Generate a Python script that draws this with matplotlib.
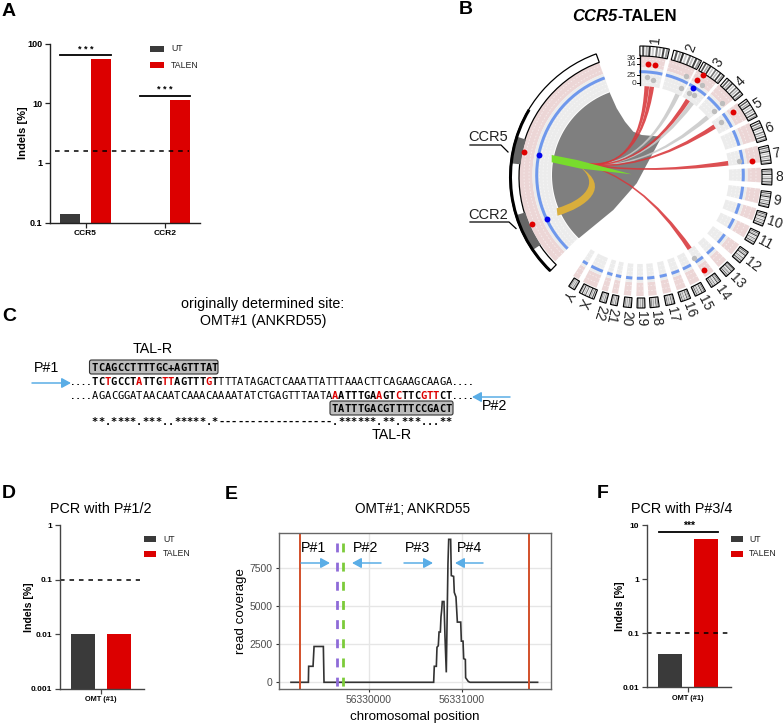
import numpy as np
import matplotlib
matplotlib.use("Agg")
import matplotlib.pyplot as plt
from matplotlib.patches import Wedge, PathPatch, Rectangle, FancyBboxPatch
from matplotlib.path import Path

plt.rcParams['font.family'] = ['Liberation Sans', 'DejaVu Sans']

W, H = 783, 725
UT_COLOR = '#3a3a3a'
TALEN_COLOR = '#dc0000'
ARROW_COLOR = '#5aade6'

# panel A
a_groups = ['CCR5', 'CCR2']
a_ut = [0.14, 0.1]
a_talen = [55, 11.5]
a_threshold = 1.55
a_sig = [63, 13.4]

# panel D
d_ut = [0.01]
d_talen = [0.01]
d_threshold = 0.1

# panel F
f_ut = [0.04]
f_talen = [5.5]
f_threshold = 0.1
f_sig = 7.4

# panel E
cov_pos = [56329161, 56329348, 56329351, 56329398, 56329409, 56329509, 56329516,
           56330695, 56330702, 56330724, 56330731, 56330745, 56330753, 56330767,
           56330774, 56330781, 56330788, 56330806, 56330817, 56330831, 56330842,
           56330849, 56330857, 56330878, 56330885, 56330910, 56330917, 56330935,
           56330950, 56330986, 56330993, 56331011, 56331018, 56331036, 56331039,
           56331068, 56331086, 56331813]
cov_val = [0, 0, 1050, 1050, 2350, 2350, 0,
           0, 1050, 1050, 2300, 2400, 3300, 3300,
           4300, 4700, 5300, 5300, 3000, 650, 5000,
           7800, 9380, 9380, 7000, 6950, 5900, 5600,
           3950, 3950, 2700, 2700, 1550, 1500, 300,
           50, 0, 0]
amplicon_edges = [56329258, 56331720]
cut_purple = 56329656
cut_green = 56329717

# panel B, angles in degrees clockwise from north
chrom_names = ['1', '2', '3', '4', '5', '6', '7', '8', '9', '10', '11', '12', '13',
               '14', '15', '16', '17', '18', '19', '20', '21', '22', 'X', 'Y']
chrom_center = [6, 21, 34, 46, 58, 69, 80, 90, 100, 109, 118, 128, 137,
                145, 153, 160, 167, 174, 180, 186, 192, 197, 204.6, 212]
chrom_width = [13, 13, 11, 10, 9, 9, 8, 7, 7, 6, 6, 6, 5,
               5, 5, 4.5, 4, 4, 3.5, 3.5, 3, 3, 7, 3]
band_frac = [0.08, 0.2, 0.3, 0.42, 0.55, 0.66, 0.78, 0.9]
band_gray = ['#555555', '#aaaaaa', '#333333', '#cccccc', '#777777', '#bbbbbb', '#444444', '#999999']

red_theta = [281, 245.6, 4, 8, 32, 31, 56, 83, 146]
red_r = [118, 118.6, 111, 111, 118, 111, 112, 113, 114]
blue_theta = [281, 245, 31]
blue_r = [103, 103, 102]
gray_theta = [4, 8, 25, 25, 34.6, 31, 34, 49, 49, 57, 82, 147]
gray_r = [98, 96, 109, 96, 109, 96, 96, 109, 98, 97, 100, 99]

link_theta = [25, 35.8, 49.5, 4.4, 7.6, 32.6, 57, 82.4, 146]
link_color = ['#c9c9c9', '#c9c9c9', '#c9c9c9', '#d8363a', '#d8363a', '#d8363a', '#d8363a', '#d8363a', '#d8363a']

shade_x = [610, 616.7, 625, 633.3, 641.7, 661.7, 636.7, 613.3, 576.7]
shade_y = [93.3, 108.3, 121.7, 131.7, 135, 136.7, 183.3, 210, 240]

seq_top = 'TCTGCCTATTGTTAGTTTGTTTTATAGACTCAAATTATTTAAACTTCAGAAGCAAGA'
seq_bottom = 'AGACGGATAACAATCAAACAAAATATCTGAGTTTAATAAATTTGAAGTCTTCGTTCT'
seq_match = '**.****.***..*****.*------------------.******.**.***...**'
top_red = [2, 7, 11, 12, 18]
bottom_red = [38, 45, 48, 52, 53, 54]
tal_left = 'TCAGCCTTTTGC+AGTTTAT'
tal_right = 'TATTTGACGTTTTCCGACT'

fig = plt.figure(figsize=(W / 100, H / 100), dpi=100)


def add_axes_px(x0, y_top, x1, y_bottom):
    return fig.add_axes([x0 / W, 1 - y_bottom / H, (x1 - x0) / W, (y_bottom - y_top) / H])


def style_bar_axes(ax, yticks, ylabels, ylabel, label_size, tick_size, pad, color='#222222'):
    ax.set_yscale('log')
    ax.set_ylim(yticks[0], yticks[-1])
    ax.set_yticks(yticks)
    ax.set_yticklabels(ylabels, fontsize=tick_size, fontweight='bold')
    ax.minorticks_off()
    ax.set_ylabel(ylabel, fontsize=label_size, fontweight='bold', labelpad=pad)
    for side in ['top', 'right']:
        ax.spines[side].set_visible(False)
    for side in ['left', 'bottom']:
        ax.spines[side].set_linewidth(1.0)
        ax.spines[side].set_color(color)
    ax.tick_params(axis='both', length=3.6, width=0.9, color=color, pad=2)
    ax.patch.set_alpha(0)


# Panel A
ax_a = add_axes_px(50, 43.5, 200, 222.5)
pos = np.arange(len(a_groups))
ax_a.bar(pos - 0.19, a_ut, 0.25, color=UT_COLOR)
ax_a.bar(pos + 0.19, a_talen, 0.25, color=TALEN_COLOR)
style_bar_axes(ax_a, [0.1, 1, 10, 100], ['0.1', '1', '10', '100'], 'Indels [%]', 8, 6.5, -0.6)
ax_a.set_xlim(-0.447, 1.44)
ax_a.set_xticks(pos)
ax_a.set_xticklabels(a_groups, fontsize=6, fontweight='bold')
ax_a.plot([-0.39, 1.3], [a_threshold, a_threshold], color='black', lw=1.1, dashes=(3, 3.2))
ax_a.plot([-0.32, 0.32], [a_sig[0], a_sig[0]], color='black', lw=1.3)
ax_a.plot([0.68, 1.31], [a_sig[1], a_sig[1]], color='black', lw=1.3)

# Panel D
ax_d = add_axes_px(60, 525, 144, 688.7)
ax_d.bar([-0.5], d_ut, 0.67, color=UT_COLOR)
ax_d.bar([0.5], d_talen, 0.67, color=TALEN_COLOR)
style_bar_axes(ax_d, [0.001, 0.01, 0.1, 1], ['0.001', '0.01', '0.1', '1'], 'Indels [%]', 7.6, 6, -2.4, '#444444')
ax_d.set_xlim(-1.14, 1.19)
ax_d.set_xticks([0])
ax_d.set_xticklabels(['OMT (#1)'], fontsize=5.3, fontweight='bold')
ax_d.plot([-1.14, 1.08], [d_threshold, d_threshold], color='black', lw=1.1, dashes=(3, 3.2))

# Panel F
ax_f = add_axes_px(647, 525, 731, 687)
ax_f.bar([-0.5], f_ut, 0.67, color=UT_COLOR)
ax_f.bar([0.5], f_talen, 0.67, color=TALEN_COLOR)
style_bar_axes(ax_f, [0.01, 0.1, 1, 10], ['0.01', '0.1', '1', '10'], 'Indels [%]', 7.6, 6, -1.6, '#444444')
ax_f.set_xlim(-1.14, 1.19)
ax_f.set_xticks([0])
ax_f.set_xticklabels(['OMT (#1)'], fontsize=5.3, fontweight='bold')
ax_f.plot([-1.14, 1.1], [f_threshold, f_threshold], color='black', lw=1.1, dashes=(3, 3.2))
ax_f.plot([-0.81, 0.83], [f_sig, f_sig], color='black', lw=1.3)

# Panel E
ax_e = add_axes_px(279, 533, 551, 689)
ax_e.set_xlim(56329032, 56331957)
ax_e.set_ylim(-440, 9797)
ax_e.grid(True, color='#e6e6e6', lw=1.0)
ax_e.set_axisbelow(True)
ax_e.plot(cov_pos, cov_val, color='#333333', lw=1.2, solid_joinstyle='miter')
for edge in amplicon_edges:
    ax_e.axvline(edge, color='#d2502a', lw=1.4)
ax_e.plot([cut_purple, cut_purple], [9170, -440], color='#8e6bd8', lw=2.0, dashes=(3.2, 3.7))
ax_e.plot([cut_green, cut_green], [9170, -440], color='#7ccb3a', lw=2.0, dashes=(3.2, 3.7))
ax_e.set_xticks([56330000, 56331000])
ax_e.set_xticklabels(['56330000', '56331000'])
ax_e.set_yticks([0, 2500, 5000, 7500])
ax_e.tick_params(labelsize=7.5, labelcolor='#4d4d4d', color='#333333', length=2.5, width=0.8, pad=2)
ax_e.set_xlabel('chromosomal position', fontsize=9.6, labelpad=4)
ax_e.set_ylabel('read coverage', fontsize=9.6, labelpad=2)
for side in ax_e.spines.values():
    side.set_color('#666666')
    side.set_linewidth(1.0)

# overlay in pixel coordinates for panels B, C and the labels
ov = fig.add_axes([0, 0, 1, 1], zorder=5)
ov.set_xlim(0, W)
ov.set_ylim(H, 0)
ov.axis('off')
ov.patch.set_alpha(0)

CX, CY = 640, 175
# the ideogram ring sits slightly lower than the data tracks
IX, IY = 641, 177


def pol(theta, r, cx=CX, cy=CY):
    t = np.radians(theta)
    return cx + r * np.sin(t), cy - r * np.cos(t)


def ring(t0, t1, r0, r1, center=(CX, CY), **kw):
    ov.add_patch(Wedge(center, r1, t0 - 90, t1 - 90, width=r1 - r0, **kw))


def track(t0, t1):
    ring(t0, t1, 107.5, 121, fc='#ecd6d6', ec='none')
    ring(t0, t1, 89, 107.5, fc='#ececec', ec='none')
    ts = np.linspace(t0, t1, 40)
    for r in [93, 97, 100.5, 111, 116]:
        x, y = pol(ts, r)
        ov.plot(x, y, color='white', lw=0.6, dashes=(2, 2), alpha=0.55)
    ring(t0, t1, 101.8, 104.8, fc='#6f98ec', ec='none')


# left sector with CCR5 and CCR2
track(224.5, 340)
ring(224, 340, 122, 131, center=(IX, IY), fc='white', ec='black', lw=0.9)
ring(276, 288, 121, 131, center=(IX, IY), fc='#666666', ec='none')
ring(236, 253, 121, 131, center=(IX, IY), fc='#666666', ec='none')
ring(224, 301, 129, 132, center=(IX, IY), fc='black', ec='none')

for t, w, name in zip(chrom_center, chrom_width, chrom_names):
    t0, t1 = t - w / 2, t + w / 2
    track(t0, t1)
    ring(t0, t1, 121, 131, center=(IX, IY), fc='white', ec='none')
    for f, c in zip(band_frac, band_gray):
        ring(t0 + f * w, t0 + (f + 0.07) * w, 121, 131, center=(IX, IY), fc=c, ec='none')
    ring(t0, t1, 121, 131, center=(IX, IY), fc='none', ec='black', lw=0.8)
    x, y = pol(t, 134, IX, IY)
    ov.text(x, y, name, fontsize=10, rotation=90 - t, rotation_mode='anchor',
            ha='left', va='center', color='#222222')

# dark region between the two target genes
ts = np.linspace(224, 340, 50)
ax_, ay_ = pol(ts, 88)
ov.fill(np.r_[ax_, shade_x], np.r_[ay_, shade_y], color='#7f7f7f', lw=0)

# links
ox, oy = pol(281, 63)
for t, c in zip(link_theta, link_color):
    p1 = pol(t - 1.5, 89)
    p2 = pol(t + 1.5, 89)
    o1 = (ox, oy - 1.2)
    o2 = (ox, oy + 1.2)
    verts = [o1, (CX, CY), p1, p2, (CX, CY), o2, o1]
    codes = [Path.MOVETO, Path.CURVE3, Path.CURVE3, Path.LINETO, Path.CURVE3, Path.CURVE3, Path.CLOSEPOLY]
    ov.add_patch(PathPatch(Path(verts, codes), fc=c, ec='none', alpha=0.88))

gold = [(557.5, 215.7), (587, 207), (612, 187), (580, 167), (600, 183), (585, 200), (556.7, 208.3), (557.5, 215.7)]
gold_codes = [Path.MOVETO, Path.CURVE4, Path.CURVE4, Path.CURVE4, Path.CURVE4, Path.CURVE4, Path.CURVE4, Path.CLOSEPOLY]
ov.add_patch(PathPatch(Path(gold, gold_codes), fc='#d9ae3c', ec='none'))
ov.fill([551.7, 577, 631.7, 580, 551.7], [155, 160, 174.3, 168.5, 162.3], color='#78dc2c', lw=0)

ov.scatter(*pol(np.array(gray_theta), np.array(gray_r)), s=15, color='#bdbdbd', lw=0, zorder=6)
ov.scatter(*pol(np.array(red_theta), np.array(red_r)), s=18, color='#e00000', lw=0, zorder=6)
ov.scatter(*pol(np.array(blue_theta), np.array(blue_r)), s=18, color='#0000ee', lw=0, zorder=6)

# small scale on chromosome 1
ov.plot([640, 640], [55, 85], color='black', lw=0.9)
for y, lab in zip([58, 64, 75, 83], ['36', '14', '25', '0']):
    ov.plot([637, 640], [y, y], color='black', lw=0.7)
    ov.text(636, y, lab, fontsize=6, ha='right', va='center', color='#333333')

ov.text(488, 137, 'CCR5', fontsize=10.5, ha='center', va='center', color='#222222')
ov.plot([470, 501, 508], [145, 145, 152], color='black', lw=0.9)
ov.text(488, 215, 'CCR2', fontsize=10.5, ha='center', va='center', color='#222222')
ov.plot([470, 509, 516], [222, 222, 228.5], color='black', lw=0.9)
ov.text(617, 16, 'CCR5', fontsize=12, fontweight='bold', fontstyle='italic', ha='right', va='center')
ov.text(617, 16, '-TALEN', fontsize=12, fontweight='bold', ha='left', va='center')

# panel C
ov.text(263, 304, 'originally determined site:', fontsize=10.3, ha='center', va='center')
ov.text(263, 321, 'OMT#1 (ANKRD55)', fontsize=10.3, ha='center', va='center')
ov.text(153, 349, 'TAL-R', fontsize=10.3, ha='center', va='center')
ov.text(392, 435, 'TAL-R', fontsize=10.3, ha='center', va='center')
ov.text(47, 368, 'P#1', fontsize=10.3, ha='center', va='center')
ov.text(495, 406, 'P#2', fontsize=10.3, ha='center', va='center')

for x0, y0, w, h in [(89.5, 360, 128.5, 14), (330, 401, 123, 14)]:
    ov.add_patch(FancyBboxPatch((x0 + 1, y0 + 1), w - 2, h - 2, boxstyle='round,pad=1,rounding_size=2',
                                fc='#bdbdbd', ec='#333333', lw=0.8))

STEP = 6.316
X0 = 95


def seq_x(i):
    return X0 + i * STEP


mono = 'DejaVu Sans Mono'
for i, ch in enumerate(seq_top):
    ov.text(seq_x(i), 382, ch, family=mono, fontsize=7.5, ha='center', va='center',
            fontweight='bold' if i < 20 else 'normal', color=TALEN_COLOR if i in top_red else 'black')
for i, ch in enumerate(seq_bottom):
    ov.text(seq_x(i), 396, ch, family=mono, fontsize=7.5, ha='center', va='center',
            fontweight='bold' if i >= 38 else 'normal', color=TALEN_COLOR if i in bottom_red else 'black')
for i, ch in enumerate(seq_match):
    ov.text(seq_x(i), 421.5, ch, family=mono, fontsize=7.5, ha='center', va='center', fontweight='bold')
for i, ch in enumerate(tal_left):
    ov.text(seq_x(i), 367.5, ch, family=mono, fontsize=7.5, ha='center', va='center', fontweight='bold')
for i, ch in enumerate(tal_right):
    ov.text(seq_x(i + 38), 408.5, ch, family=mono, fontsize=7.5, ha='center', va='center', fontweight='bold')
for y in [382, 396]:
    ov.text(81, y, '....', family=mono, fontsize=6.5, ha='center', va='center', fontweight='bold')
    ov.text(463, y, '....', family=mono, fontsize=6.5, ha='center', va='center', fontweight='bold')


def arrow(x0, x1, y):
    ov.annotate('', xy=(x1, y), xytext=(x0, y),
                arrowprops=dict(arrowstyle='-|>,head_length=0.55,head_width=0.3', color=ARROW_COLOR,
                                lw=1.1, shrinkA=0, shrinkB=0))


arrow(32, 71, 383)
arrow(510, 472, 397)

# labels and arrows inside panel E
for x, lab in zip([314, 366, 418, 469], ['P#1', 'P#2', 'P#3', 'P#4']):
    ov.text(x, 548, lab, fontsize=10.3, ha='center', va='center')
arrow(301, 330, 563)
arrow(381, 352, 563)
arrow(404, 433, 563)
arrow(483, 455, 563)

# significance marks
ov.text(86, 49.5, '* * *', fontsize=6.5, fontweight='bold', ha='center', va='center')
ov.text(165, 89.5, '* * *', fontsize=6.5, fontweight='bold', ha='center', va='center')
ov.text(689, 525.5, '***', fontsize=7.5, fontweight='bold', ha='center', va='center')

# legends
for x, lab_x, y1, y2, fs in [(150, 171, 48.5, 65, 6.3), (144, 163, 539, 554, 6.3), (731, 749, 539, 554, 6.3)]:
    w = 13.5 if x == 150 else 12
    ov.add_patch(Rectangle((x, y1 - 3), w, 6, fc=UT_COLOR, ec='none'))
    ov.add_patch(Rectangle((x, y2 - 3), w, 6, fc=TALEN_COLOR, ec='none'))
    ov.text(lab_x, y1, 'UT', fontsize=fs, ha='left', va='center', color='#222222')
    ov.text(lab_x, y2, 'TALEN', fontsize=fs, ha='left', va='center', color='#222222')

# titles
ov.text(101, 509, 'PCR with P#1/2', fontsize=10.4, ha='center', va='center')
ov.text(413, 509, 'OMT#1; ANKRD55', fontsize=9.8, ha='center', va='center')
ov.text(682, 509, 'PCR with P#3/4', fontsize=10.4, ha='center', va='center')

# panel letters
for x, y, lab in [(9, 11, 'A'), (466, 9, 'B'), (9, 316, 'C'), (9, 493, 'D'), (231, 494, 'E'), (603, 493, 'F')]:
    ov.text(x, y, lab, fontsize=14, fontweight='bold', ha='center', va='center')

fig.savefig('out.png', dpi=100)
